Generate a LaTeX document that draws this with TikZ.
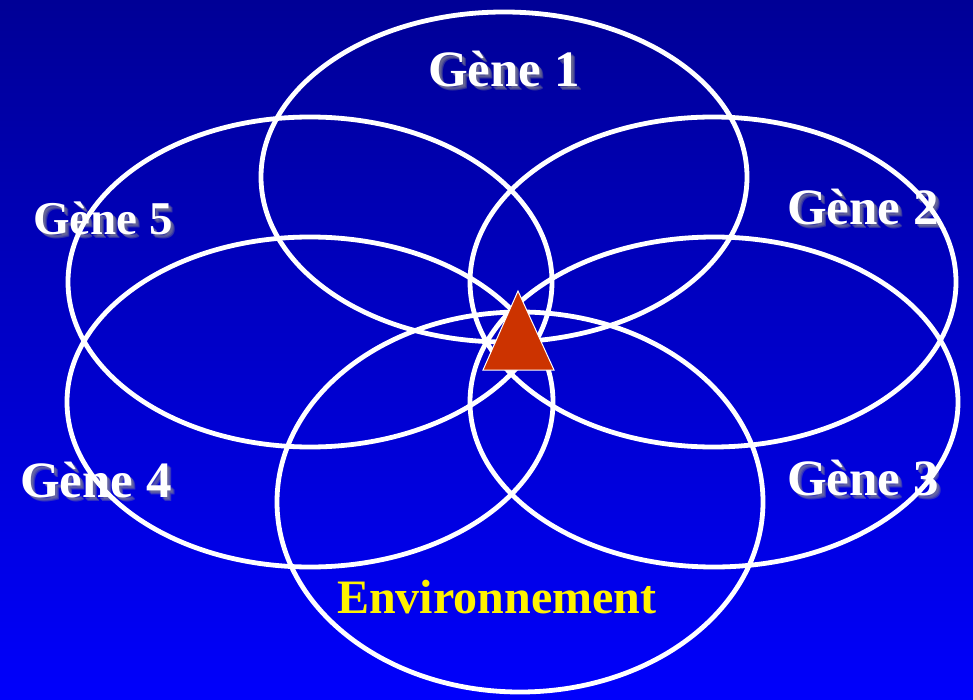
\documentclass[tikz,border=0pt]{standalone}
\usepackage{fontspec}
\setmainfont{Liberation Serif}
\begin{document}
\begin{tikzpicture}[x=1pt,y=-1pt,
  ring/.style={draw=white,line width=4.8pt},
  genelabel/.style={anchor=base west,inner sep=0pt,text=white,font=\bfseries\fontsize{51}{60}\selectfont},
  shadowlabel/.style={genelabel,text=black!45,opacity=0.35},
  envlabel/.style={anchor=base west,inner sep=0pt,text=yellow,font=\bfseries\fontsize{48}{58}\selectfont}]
  % background
  \shade[top color={rgb,255:red,0;green,0;blue,150},bottom color={rgb,255:red,0;green,0;blue,252}]
    (0,0) rectangle (973,700);
  \useasboundingbox (0,0) rectangle (973,700);

  % labels with soft drop shadow
  \newcommand{\genetext}[4][51]{%
    \foreach \d in {2,3,4}{%
      \node[shadowlabel,font=\bfseries\fontsize{#1}{60}\selectfont] at (#2+\d,#3+\d) {#4};}%
  }
  \genetext{428}{87}{Gène 1}
  \genetext{787}{225}{Gène 2}
  \genetext{787}{495}{Gène 3}
  \genetext{20}{497}{Gène 4}
  \genetext[47]{33}{235}{Gène 5}
  \node[genelabel] (g1) at (428,87) {Gène 1};
  \node[genelabel] (g2) at (787,225) {Gène 2};
  \node[genelabel] (g3) at (787,495) {Gène 3};
  \node[genelabel] (g4) at (20,497) {Gène 4};
  \node[genelabel,font=\bfseries\fontsize{47}{56}\selectfont] (g5) at (33,235) {Gène 5};
  \node[envlabel] (env) at (337,613) {Environnement};

  % overlapping rings
  \draw[ring] (504,177) ellipse [x radius=243,y radius=165];
  \draw[ring] (713,282) ellipse [x radius=243,y radius=165];
  \draw[ring] (714,402) ellipse [x radius=244,y radius=165];
  \draw[ring] (310,402) ellipse [x radius=243,y radius=165];
  \draw[ring] (310,282) ellipse [x radius=242,y radius=165];
  \draw[ring] (520,502) ellipse [x radius=243,y radius=190];

  % central triangle
  \filldraw[fill={rgb,255:red,204;green,51;blue,0},draw=white,line width=1pt,line join=miter]
    (518,291) -- (554,370) -- (483,370) -- cycle;
\end{tikzpicture}
\end{document}
